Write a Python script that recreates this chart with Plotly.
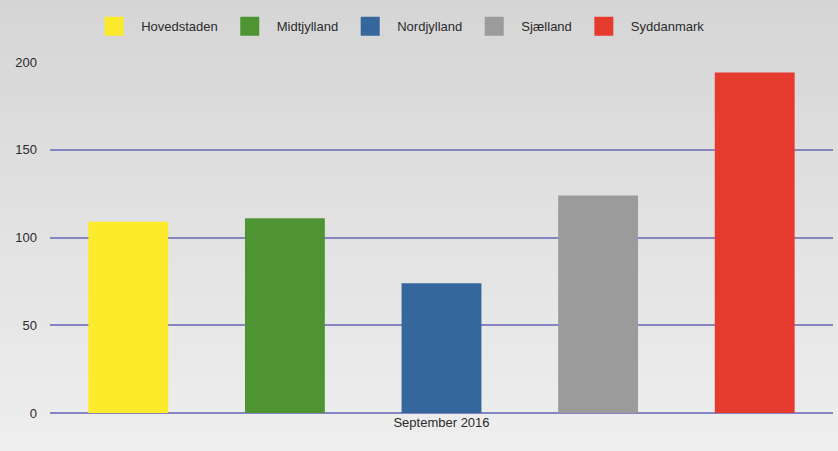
import plotly.graph_objects as go

category = ["September 2016"]
regions = ["Hovedstaden", "Midtjylland", "Nordjylland", "Sjælland", "Syddanmark"]
values = [109, 111, 74, 124, 194]
colors = ["#fbeb2a", "#4f9433", "#35679c", "#9b9b9b", "#e53a2e"]
y_ticks = [0, 50, 100, 150, 200]

fig = go.Figure()
for name, v, c in zip(regions, values, colors):
    fig.add_trace(go.Bar(x=category, y=[v], name=name, showlegend=False,
                         marker=dict(color=c, line=dict(width=0))))
# legend entries with larger square swatches
for name, c in zip(regions, colors):
    fig.add_trace(go.Scatter(x=[None], y=[None], mode="markers", name=name,
                             marker=dict(symbol="square", size=16, color=c,
                                         line=dict(color=c, width=3))))

# background gradient (light gray, darker at top)
shapes = []
n = 60
top = (213, 213, 213)
bot = (240, 240, 240)
for i in range(n):
    t = i / (n - 1)
    r = round(top[0] + (bot[0] - top[0]) * t)
    g = round(top[1] + (bot[1] - top[1]) * t)
    b = round(top[2] + (bot[2] - top[2]) * t)
    shapes.append(dict(type="rect", xref="paper", yref="paper", layer="below",
                       x0=-1, x1=2, y0=1.2 - (i + 1) * 1.4 / n, y1=1.2 - i * 1.4 / n + 0.001,
                       fillcolor=f"rgb({r},{g},{b})", line=dict(width=0)))

fig.update_layout(
    width=838, height=451,
    margin=dict(l=50, r=5, t=62, b=38),
    paper_bgcolor="#e4e4e4",
    plot_bgcolor="rgba(0,0,0,0)",
    barmode="group",
    bargap=0,
    bargroupgap=0.49,
    shapes=shapes,
    font=dict(family="Liberation Sans, Arial, sans-serif", size=13, color="#2b2b2b"),
    legend=dict(orientation="h", xref="container", x=0.104, xanchor="left",
                yref="container", y=0.975, yanchor="top",
                bgcolor="rgba(0,0,0,0)", font=dict(size=13, color="#2b2b2b"),
                itemwidth=44, traceorder="normal"),
    xaxis=dict(showgrid=False, showline=False, ticks="", tickfont=dict(size=13)),
    yaxis=dict(range=[0, 200], tickvals=y_ticks, showgrid=True, gridcolor="#8585c4",
               gridwidth=1.5, zeroline=True, zerolinecolor="#8585c4", zerolinewidth=1.5,
               ticks="", ticklabelstandoff=12, tickfont=dict(size=13)),
    showlegend=True,
)

fig.write_html("out.html")
